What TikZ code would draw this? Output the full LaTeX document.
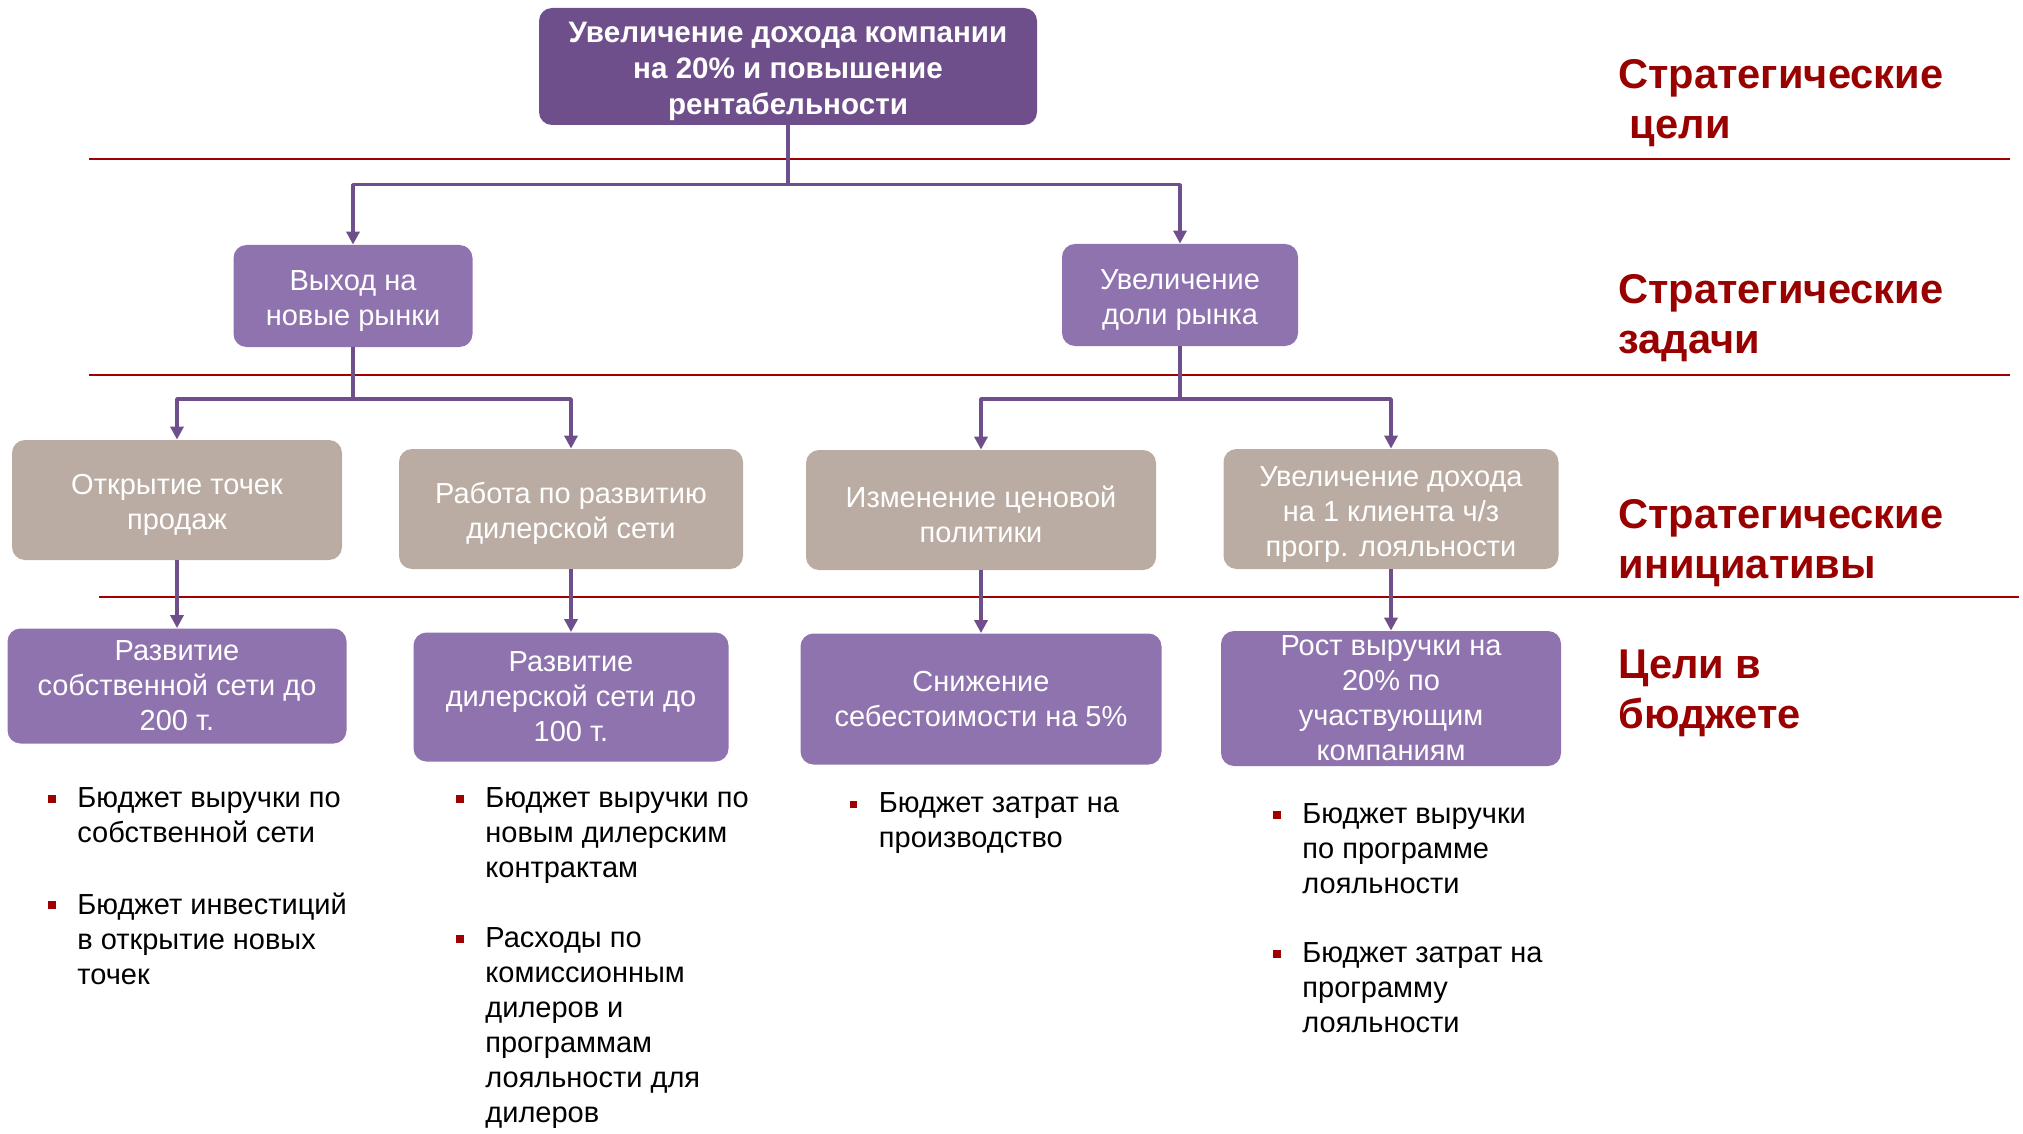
\documentclass[tikz,border=0pt]{standalone}
\usepackage{fontspec}
\setmainfont{Liberation Sans}
\usepackage{tikz}
\usetikzlibrary{arrows.meta}
\usetikzlibrary{positioning}

\definecolor{goalpurple}{RGB}{110,79,139}
\definecolor{boxpurple}{RGB}{143,115,175}
\definecolor{boxtaupe}{RGB}{186,172,162}
\definecolor{linered}{RGB}{160,0,0}
\definecolor{labelred}{RGB}{153,0,0}
\newcommand{\topgap}{\rule{0pt}{15.5pt}}

\begin{document}
\begin{tikzpicture}[x=0.5pt,y=-0.5pt,>={Triangle[length=6.5pt,width=6.5pt]},line join=bevel,
  box/.style={rounded corners=6.5pt,inner sep=0pt,align=center,text=white,
    font=\fontsize{14.5}{17.5}\selectfont},
  goalbox/.style={box,fill=goalpurple,font=\bfseries\fontsize{14.8}{18}\selectfont},
  taskbox/.style={box,fill=boxpurple},
  initbox/.style={box,fill=boxtaupe},
  budbox/.style={box,fill=boxpurple},
  level/.style={anchor=west,align=left,inner sep=0pt,text=labelred,
    font=\bfseries\fontsize{20.8}{25}\selectfont},
  item/.style={anchor=north west,align=left,inner sep=0pt,
    font=\fontsize{14.5}{17.5}\selectfont},
  sq/.style={fill=linered,minimum size=3.8pt,inner sep=0pt},
  sep/.style={draw=linered,line width=1.3pt},
  conn/.style={draw=goalpurple,line width=1.8pt,->},
]
\useasboundingbox (0,0) rectangle (2023,1134);
%%
\draw [sep] (89,159) -- (2010,159);
\draw [sep] (89,375) -- (2010,375);
\draw [sep] (99,597) -- (2019,597);
%%
\node (goal) at (788,66.5) [goalbox,minimum width=249pt,minimum height=58.5pt] {\topgap Увеличение дохода компании\\на 20\% и повышение\\рентабельности};
  \node (task_1) at (353,296) [taskbox,minimum width=119.5pt,minimum height=51pt] {\topgap Выход на\\новые рынки};
  \node (task_2) at (1180,295) [taskbox,minimum width=118pt,minimum height=51pt] {\topgap Увеличение\\доли рынка};
  \node (init_1) at (177,500) [initbox,minimum width=165pt,minimum height=60pt] {\topgap Открытие точек\\продаж};
  \node (init_2) at (571,509) [initbox,minimum width=172pt,minimum height=60pt] {\topgap Работа по развитию\\дилерской сети};
  \node (init_3) at (981,510) [initbox,minimum width=175pt,minimum height=60pt] {\topgap Изменение ценовой\\политики};
  \node (init_4) at (1391,509) [initbox,minimum width=167.5pt,minimum height=60pt] {\topgap Увеличение дохода\\на 1 клиента ч/з\\прогр. лояльности};
  \node (bud_1) at (177,686) [budbox,minimum width=169.5pt,minimum height=57.5pt] {Развитие\\собственной сети до\\200 т.};
  \node (bud_2) at (571,697) [budbox,minimum width=157.5pt,minimum height=64.5pt] {Развитие\\дилерской сети до\\100 т.};
  \node (bud_3) at (981,699) [budbox,minimum width=180.5pt,minimum height=65.5pt] {Снижение\\себестоимости на 5\%};
  \node (bud_4) at (1391,698.5) [budbox,minimum width=170pt,minimum height=67.5pt] {Рост выручки на\\20\% по\\участвующим\\компаниям};
%%
\coordinate (fork_0) at (788,184.5);
  \coordinate (fork_1) at (353,399);
  \coordinate (fork_2) at (1180,399);
  \draw [conn] (goal.south) -- (fork_0) -| (task_1.north);
  \draw [conn] (fork_0) -| (task_2.north);
  \draw [conn] (task_1.south) -- (fork_1) -| (init_1.north);
  \draw [conn] (fork_1) -| (init_2.north);
  \draw [conn] (task_2.south) -- (fork_2) -| (init_3.north);
  \draw [conn] (fork_2) -| (init_4.north);
  \draw [conn] (init_1.south) -- (bud_1.north);
  \draw [conn] (init_2.south) -- (bud_2.north);
  \draw [conn] (init_3.south) -- (bud_3.north);
  \draw [conn] (init_4.south) -- (bud_4.north);
%%
\node (lvl_1) at (1618,103) [level] {Стратегические\\\ цели};
  \node (lvl_2) at (1618,318) [level] {Стратегические\\задачи};
  \node (lvl_3) at (1618,543) [level] {Стратегические\\инициативы};
  \node (lvl_4) at (1618,693) [level] {Цели в\\бюджете};
%%
\node (item_1) at (77,787) [item] {Бюджет выручки по\\собственной сети};
  \node (item_2) at (77,893) [item] {Бюджет инвестиций\\в открытие новых\\точек};
  \node (item_3) at (485,787) [item] {Бюджет выручки по\\новым дилерским\\контрактам};
  \node (item_4) at (485,927) [item] {Расходы по\\комиссионным\\дилеров и\\программам\\лояльности для\\дилеров};
  \node (item_5) at (878.5,792.5) [item] {Бюджет затрат на\\производство};
  \node (item_6) at (1302,803) [item] {Бюджет выручки\\по программе\\лояльности};
  \node (item_7) at (1302,942) [item] {Бюджет затрат на\\программу\\лояльности};
  \foreach \i in {1,...,7}
    \node (sq_\i) at ([xshift=-12.5pt,yshift=-6pt]item_\i.north west) [sq] {};
%
\end{tikzpicture}
\end{document}
